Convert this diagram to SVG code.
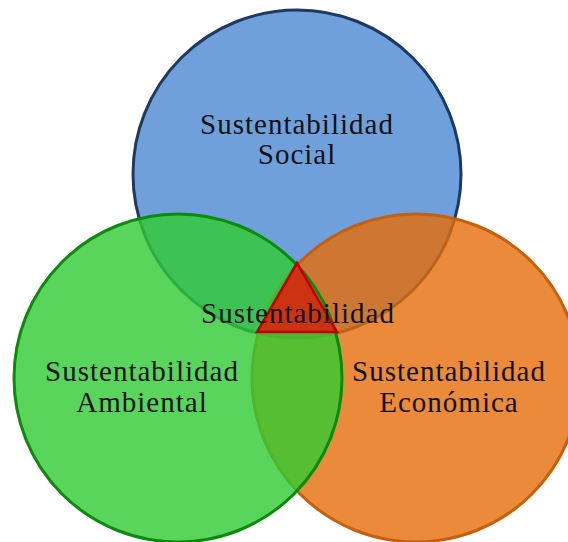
<svg xmlns="http://www.w3.org/2000/svg" width="568" height="542" viewBox="0 0 568 542">
  <style>
    .lbl { font-family: "Liberation Serif", "Times New Roman", serif; font-size: 29px; letter-spacing: 1px; fill: #111; text-anchor: middle; }
    .circ { stroke-width: 3; }
  </style>
  <rect width="568" height="542" fill="#ffffff"/>
  <g id="social">
    <circle class="circ" cx="297" cy="174" r="164" fill="#6FA0DC" stroke="#1F3A60"/>
  </g>
  <g id="economica">
    <circle class="circ" cx="416" cy="378" r="164" fill="#E56D09" fill-opacity="0.8" stroke="#C5600F"/>
  </g>
  <g id="ambiental">
    <circle class="circ" cx="178" cy="378" r="164" fill="#31CA32" fill-opacity="0.8" stroke="#0B8A0B"/>
  </g>
  <g id="sustentabilidad">
    <polygon points="297,263 257,332 337,332" fill="#CC3311" stroke="#C00000" stroke-width="2.5" stroke-linejoin="miter"/>
  </g>
  <g id="labels">
    <text class="lbl" x="297" y="134">Sustentabilidad</text>
    <text class="lbl" x="297" y="164">Social</text>
    <text class="lbl" x="298" y="323">Sustentabilidad</text>
    <text class="lbl" x="142" y="381">Sustentabilidad</text>
    <text class="lbl" x="142" y="412">Ambiental</text>
    <text class="lbl" x="449" y="381">Sustentabilidad</text>
    <text class="lbl" x="449" y="412">Económica</text>
  </g>
  <g id="connectors"/>
</svg>
